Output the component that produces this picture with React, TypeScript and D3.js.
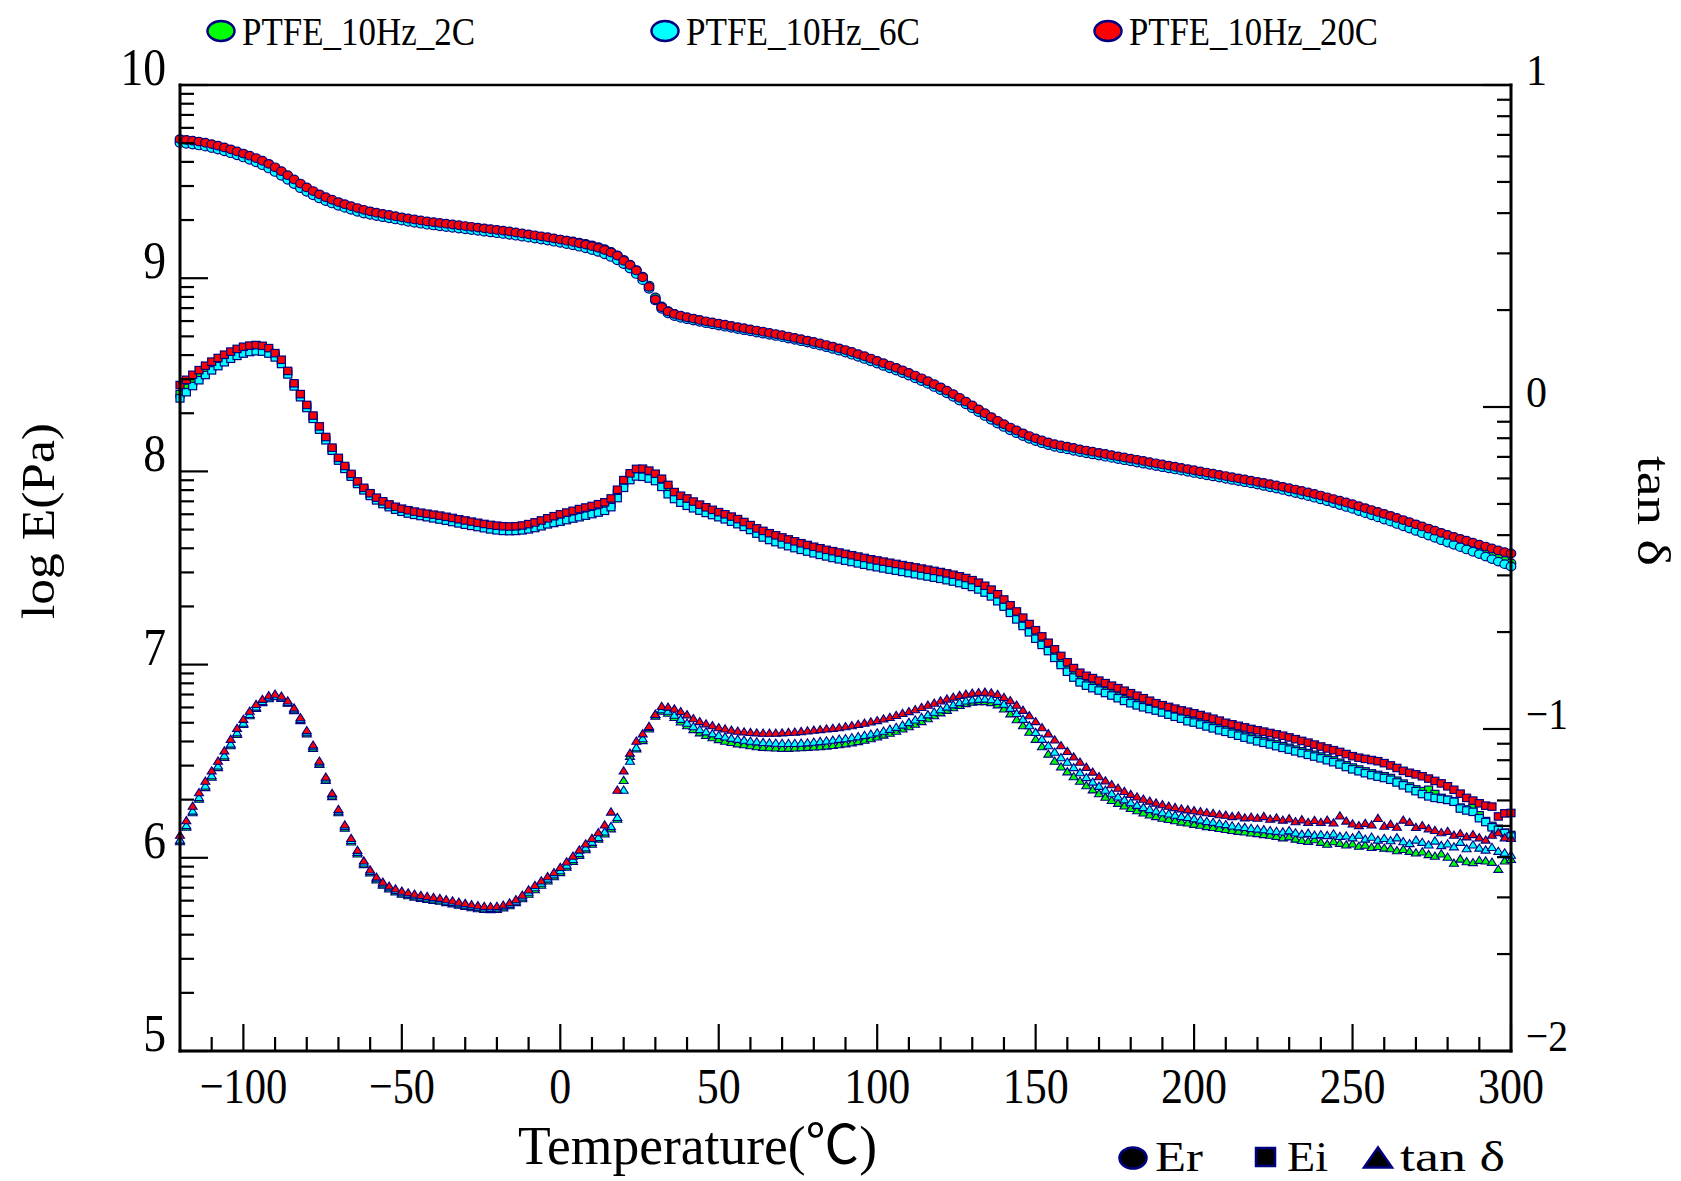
import React from "react";
import * as d3 from "d3";

// Temperature grid (°C) shared by every measured curve
const TEMPS: number[] = d3.range(-120, 301, 2);

// log10 of storage modulus Er (Pa)
const ER_2C = [
  9.71, 9.706, 9.702, 9.697, 9.691, 9.684, 9.676, 9.667, 9.657, 9.646,
  9.635, 9.623, 9.611, 9.597, 9.581, 9.563, 9.543, 9.522, 9.5, 9.479,
  9.459, 9.441, 9.424, 9.409, 9.396, 9.384, 9.373, 9.363, 9.353, 9.344,
  9.337, 9.331, 9.325, 9.319, 9.313, 9.307, 9.301, 9.296, 9.291, 9.286,
  9.282, 9.278, 9.274, 9.27, 9.266, 9.262, 9.258, 9.254, 9.25, 9.246,
  9.242, 9.238, 9.234, 9.23, 9.226, 9.221, 9.217, 9.213, 9.209, 9.204,
  9.2, 9.195, 9.19, 9.184, 9.178, 9.17, 9.161, 9.15, 9.136, 9.118,
  9.095, 9.07, 9.042, 9.008, 8.962, 8.9, 8.854, 8.83, 8.815, 8.804,
  8.794, 8.786, 8.779, 8.772, 8.766, 8.76, 8.754, 8.748, 8.742, 8.736,
  8.73, 8.724, 8.718, 8.712, 8.706, 8.7, 8.693, 8.686, 8.679, 8.672,
  8.664, 8.656, 8.648, 8.64, 8.631, 8.621, 8.611, 8.6, 8.589, 8.577,
  8.565, 8.553, 8.541, 8.529, 8.516, 8.503, 8.489, 8.475, 8.46, 8.444,
  8.428, 8.411, 8.393, 8.374, 8.354, 8.334, 8.314, 8.294, 8.274, 8.255,
  8.237, 8.22, 8.205, 8.19, 8.176, 8.164, 8.153, 8.143, 8.134, 8.127,
  8.121, 8.114, 8.107, 8.101, 8.095, 8.089, 8.083, 8.077, 8.071, 8.065,
  8.059, 8.053, 8.047, 8.041, 8.035, 8.029, 8.023, 8.017, 8.011, 8.005,
  7.999, 7.993, 7.987, 7.981, 7.975, 7.969, 7.963, 7.957, 7.951, 7.945,
  7.939, 7.932, 7.925, 7.918, 7.911, 7.904, 7.896, 7.888, 7.88, 7.872,
  7.864, 7.855, 7.846, 7.836, 7.826, 7.816, 7.805, 7.794, 7.783, 7.772,
  7.761, 7.75, 7.739, 7.727, 7.715, 7.703, 7.691, 7.679, 7.667, 7.655,
  7.643, 7.632, 7.62, 7.608, 7.596, 7.584, 7.572, 7.56, 7.548, 7.536,
  7.525,
];
const ER_6C = [
  9.7, 9.696, 9.692, 9.687, 9.681, 9.674, 9.666, 9.657, 9.647, 9.636,
  9.625, 9.613, 9.6, 9.585, 9.568, 9.55, 9.53, 9.509, 9.487, 9.466,
  9.447, 9.429, 9.413, 9.399, 9.387, 9.375, 9.364, 9.354, 9.344, 9.335,
  9.328, 9.322, 9.316, 9.31, 9.304, 9.298, 9.292, 9.287, 9.282, 9.277,
  9.273, 9.269, 9.265, 9.261, 9.257, 9.253, 9.249, 9.245, 9.241, 9.237,
  9.233, 9.229, 9.225, 9.22, 9.215, 9.21, 9.205, 9.2, 9.195, 9.189,
  9.183, 9.177, 9.17, 9.163, 9.155, 9.146, 9.136, 9.124, 9.11, 9.093,
  9.073, 9.05, 9.022, 8.99, 8.945, 8.885, 8.842, 8.818, 8.804, 8.795,
  8.788, 8.781, 8.774, 8.767, 8.761, 8.755, 8.749, 8.743, 8.737, 8.731,
  8.725, 8.719, 8.713, 8.707, 8.701, 8.695, 8.688, 8.681, 8.674, 8.667,
  8.659, 8.651, 8.643, 8.634, 8.625, 8.615, 8.604, 8.593, 8.582, 8.57,
  8.558, 8.546, 8.534, 8.522, 8.509, 8.496, 8.482, 8.468, 8.453, 8.437,
  8.421, 8.404, 8.386, 8.367, 8.347, 8.327, 8.307, 8.287, 8.267, 8.248,
  8.23, 8.213, 8.198, 8.183, 8.169, 8.157, 8.146, 8.136, 8.127, 8.12,
  8.114, 8.107, 8.1, 8.094, 8.088, 8.082, 8.076, 8.07, 8.064, 8.058,
  8.052, 8.046, 8.04, 8.034, 8.028, 8.022, 8.016, 8.01, 8.004, 7.998,
  7.992, 7.986, 7.98, 7.974, 7.968, 7.962, 7.956, 7.95, 7.944, 7.938,
  7.932, 7.925, 7.918, 7.911, 7.904, 7.896, 7.888, 7.88, 7.872, 7.864,
  7.855, 7.846, 7.836, 7.826, 7.816, 7.806, 7.795, 7.784, 7.773, 7.762,
  7.751, 7.74, 7.728, 7.716, 7.704, 7.692, 7.68, 7.668, 7.656, 7.644,
  7.632, 7.62, 7.608, 7.596, 7.584, 7.572, 7.559, 7.546, 7.533, 7.52,
  7.508,
];
const ER_20C = [
  9.72, 9.716, 9.712, 9.707, 9.701, 9.694, 9.686, 9.677, 9.667, 9.656,
  9.645, 9.634, 9.622, 9.608, 9.592, 9.574, 9.554, 9.533, 9.511, 9.49,
  9.47, 9.451, 9.434, 9.419, 9.406, 9.394, 9.383, 9.373, 9.363, 9.354,
  9.346, 9.339, 9.333, 9.327, 9.321, 9.315, 9.309, 9.304, 9.299, 9.294,
  9.29, 9.286, 9.282, 9.278, 9.274, 9.27, 9.266, 9.262, 9.258, 9.254,
  9.25, 9.246, 9.242, 9.237, 9.232, 9.227, 9.222, 9.217, 9.212, 9.206,
  9.2, 9.194, 9.188, 9.181, 9.174, 9.166, 9.157, 9.146, 9.133, 9.117,
  9.09, 9.068, 9.04, 9.005, 8.955, 8.89, 8.85, 8.828, 8.815, 8.806,
  8.798, 8.791, 8.784, 8.777, 8.771, 8.765, 8.759, 8.753, 8.747, 8.741,
  8.735, 8.729, 8.723, 8.717, 8.711, 8.705, 8.698, 8.691, 8.684, 8.677,
  8.67, 8.662, 8.654, 8.646, 8.637, 8.628, 8.618, 8.607, 8.596, 8.584,
  8.572, 8.56, 8.548, 8.536, 8.523, 8.51, 8.496, 8.482, 8.467, 8.451,
  8.435, 8.418, 8.4, 8.381, 8.361, 8.341, 8.321, 8.301, 8.281, 8.262,
  8.244, 8.227, 8.212, 8.197, 8.183, 8.171, 8.16, 8.15, 8.141, 8.134,
  8.128, 8.121, 8.114, 8.108, 8.102, 8.096, 8.09, 8.084, 8.078, 8.072,
  8.066, 8.06, 8.054, 8.048, 8.042, 8.036, 8.03, 8.024, 8.018, 8.012,
  8.006, 8.0, 7.994, 7.988, 7.982, 7.976, 7.97, 7.964, 7.958, 7.952,
  7.946, 7.94, 7.934, 7.927, 7.92, 7.913, 7.906, 7.899, 7.891, 7.883,
  7.875, 7.866, 7.857, 7.848, 7.839, 7.83, 7.82, 7.81, 7.8, 7.79,
  7.78, 7.77, 7.759, 7.748, 7.737, 7.726, 7.715, 7.704, 7.693, 7.682,
  7.671, 7.661, 7.651, 7.641, 7.631, 7.621, 7.611, 7.601, 7.591, 7.582,
  7.575,
];

// log10 of loss modulus Ei (Pa)
const EI_2C = [
  8.4, 8.432, 8.463, 8.492, 8.518, 8.541, 8.562, 8.581, 8.598, 8.612,
  8.624, 8.632, 8.636, 8.634, 8.624, 8.603, 8.57, 8.514, 8.45, 8.393,
  8.337, 8.281, 8.225, 8.17, 8.115, 8.063, 8.02, 7.98, 7.942, 7.909,
  7.88, 7.857, 7.838, 7.822, 7.809, 7.798, 7.79, 7.783, 7.777, 7.771,
  7.765, 7.759, 7.753, 7.746, 7.739, 7.732, 7.726, 7.72, 7.714, 7.708,
  7.703, 7.7, 7.699, 7.7, 7.703, 7.709, 7.716, 7.725, 7.735, 7.744,
  7.752, 7.76, 7.768, 7.776, 7.784, 7.792, 7.8, 7.81, 7.832, 7.885,
  7.938, 7.975, 7.99, 7.99, 7.982, 7.97, 7.945, 7.908, 7.876, 7.856,
  7.84, 7.824, 7.811, 7.798, 7.786, 7.775, 7.764, 7.752, 7.739, 7.725,
  7.709, 7.69, 7.671, 7.657, 7.646, 7.635, 7.625, 7.615, 7.606, 7.597,
  7.588, 7.58, 7.572, 7.564, 7.557, 7.55, 7.543, 7.536, 7.529, 7.522,
  7.516, 7.51, 7.504, 7.498, 7.492, 7.486, 7.48, 7.474, 7.468, 7.462,
  7.456, 7.449, 7.442, 7.434, 7.425, 7.414, 7.401, 7.385, 7.365, 7.34,
  7.312, 7.28, 7.246, 7.212, 7.179, 7.146, 7.114, 7.082, 7.047, 7.01,
  6.974, 6.944, 6.918, 6.9, 6.887, 6.875, 6.862, 6.849, 6.835, 6.821,
  6.809, 6.798, 6.788, 6.779, 6.771, 6.761, 6.75, 6.739, 6.729, 6.716,
  6.709, 6.699, 6.689, 6.679, 6.669, 6.661, 6.651, 6.641, 6.631, 6.622,
  6.612, 6.604, 6.596, 6.587, 6.578, 6.569, 6.56, 6.551, 6.542, 6.533,
  6.524, 6.514, 6.504, 6.492, 6.479, 6.467, 6.457, 6.447, 6.437, 6.429,
  6.422, 6.413, 6.399, 6.384, 6.369, 6.354, 6.345, 6.352, 6.33, 6.31,
  6.3, 6.292, 6.26, 6.25, 6.257, 6.22, 6.19, 6.165, 6.15, 6.13,
  6.118,
];
const EI_6C = [
  8.378, 8.41, 8.442, 8.472, 8.499, 8.523, 8.545, 8.565, 8.583, 8.598,
  8.61, 8.618, 8.622, 8.62, 8.61, 8.59, 8.556, 8.502, 8.44, 8.384,
  8.328, 8.272, 8.216, 8.161, 8.107, 8.056, 8.013, 7.973, 7.935, 7.902,
  7.873, 7.85, 7.831, 7.815, 7.802, 7.791, 7.782, 7.775, 7.769, 7.763,
  7.757, 7.751, 7.745, 7.738, 7.731, 7.724, 7.718, 7.712, 7.706, 7.7,
  7.695, 7.692, 7.691, 7.692, 7.695, 7.7, 7.707, 7.716, 7.726, 7.733,
  7.74, 7.748, 7.756, 7.763, 7.771, 7.779, 7.787, 7.796, 7.815, 7.862,
  7.915, 7.955, 7.974, 7.972, 7.963, 7.95, 7.92, 7.882, 7.857, 7.838,
  7.822, 7.809, 7.797, 7.785, 7.774, 7.763, 7.752, 7.74, 7.727, 7.713,
  7.697, 7.678, 7.658, 7.645, 7.634, 7.623, 7.613, 7.603, 7.594, 7.585,
  7.576, 7.568, 7.56, 7.552, 7.545, 7.538, 7.531, 7.524, 7.517, 7.51,
  7.504, 7.498, 7.492, 7.486, 7.48, 7.474, 7.468, 7.462, 7.456, 7.45,
  7.444, 7.437, 7.43, 7.422, 7.413, 7.402, 7.389, 7.373, 7.353, 7.328,
  7.3, 7.268, 7.234, 7.2, 7.167, 7.134, 7.102, 7.07, 7.035, 6.998,
  6.963, 6.933, 6.908, 6.891, 6.878, 6.866, 6.853, 6.84, 6.826, 6.812,
  6.8, 6.789, 6.779, 6.77, 6.762, 6.752, 6.741, 6.73, 6.72, 6.707,
  6.7, 6.69, 6.68, 6.67, 6.66, 6.652, 6.642, 6.632, 6.622, 6.613,
  6.603, 6.595, 6.587, 6.578, 6.569, 6.56, 6.551, 6.542, 6.533, 6.524,
  6.515, 6.505, 6.495, 6.483, 6.47, 6.458, 6.448, 6.438, 6.428, 6.42,
  6.413, 6.404, 6.39, 6.375, 6.36, 6.345, 6.33, 6.318, 6.31, 6.305,
  6.3, 6.29, 6.255, 6.245, 6.238, 6.205, 6.185, 6.158, 6.145, 6.128,
  6.11,
];
const EI_20C = [
  8.447, 8.474, 8.5, 8.524, 8.547, 8.568, 8.587, 8.604, 8.62, 8.634,
  8.645, 8.651, 8.654, 8.65, 8.638, 8.612, 8.578, 8.52, 8.456, 8.4,
  8.344, 8.289, 8.233, 8.178, 8.123, 8.07, 8.028, 7.987, 7.948, 7.915,
  7.887, 7.864, 7.845, 7.829, 7.817, 7.807, 7.799, 7.792, 7.786, 7.781,
  7.776, 7.771, 7.765, 7.759, 7.752, 7.746, 7.74, 7.734, 7.728, 7.723,
  7.719, 7.716, 7.715, 7.716, 7.72, 7.727, 7.736, 7.746, 7.757, 7.768,
  7.778, 7.787, 7.796, 7.805, 7.813, 7.821, 7.83, 7.84, 7.86, 7.905,
  7.955, 7.99, 8.013, 8.014, 8.004, 7.988, 7.962, 7.93, 7.893, 7.874,
  7.86, 7.844, 7.828, 7.814, 7.801, 7.789, 7.778, 7.766, 7.753, 7.738,
  7.722, 7.705, 7.692, 7.68, 7.669, 7.658, 7.648, 7.638, 7.628, 7.619,
  7.61, 7.602, 7.594, 7.587, 7.58, 7.573, 7.566, 7.559, 7.552, 7.545,
  7.539, 7.533, 7.527, 7.521, 7.515, 7.509, 7.503, 7.497, 7.491, 7.485,
  7.479, 7.472, 7.465, 7.457, 7.448, 7.437, 7.424, 7.408, 7.388, 7.364,
  7.337, 7.307, 7.275, 7.243, 7.21, 7.178, 7.146, 7.113, 7.079, 7.045,
  7.012, 6.982, 6.958, 6.942, 6.93, 6.917, 6.904, 6.891, 6.878, 6.865,
  6.852, 6.839, 6.826, 6.813, 6.8, 6.79, 6.781, 6.772, 6.763, 6.756,
  6.748, 6.739, 6.73, 6.72, 6.71, 6.699, 6.691, 6.683, 6.675, 6.667,
  6.66, 6.653, 6.646, 6.639, 6.632, 6.623, 6.614, 6.605, 6.596, 6.586,
  6.576, 6.566, 6.557, 6.548, 6.537, 6.526, 6.518, 6.512, 6.506, 6.5,
  6.49, 6.478, 6.465, 6.45, 6.44, 6.432, 6.422, 6.41, 6.398, 6.385,
  6.37, 6.352, 6.332, 6.31, 6.296, 6.282, 6.27, 6.265, 6.214, 6.23,
  6.232,
];

// log10 of tan δ (right axis)
const TAN_2C = [
  -1.35, -1.305, -1.26, -1.218, -1.182, -1.15, -1.12, -1.088, -1.052, -1.017,
  -0.986, -0.959, -0.936, -0.918, -0.906, -0.9, -0.905, -0.92, -0.943, -0.974,
  -1.015, -1.06, -1.11, -1.16, -1.21, -1.26, -1.308, -1.351, -1.388, -1.421,
  -1.447, -1.469, -1.485, -1.497, -1.506, -1.513, -1.518, -1.522, -1.526, -1.529,
  -1.532, -1.535, -1.539, -1.543, -1.547, -1.551, -1.555, -1.558, -1.56, -1.561,
  -1.56, -1.556, -1.549, -1.539, -1.527, -1.513, -1.499, -1.485, -1.472, -1.459,
  -1.446, -1.429, -1.411, -1.393, -1.375, -1.358, -1.342, -1.326, -1.31, -1.28,
  -1.16, -1.085, -1.062, -1.036, -1.0, -0.96, -0.945, -0.951, -0.964, -0.978,
  -0.99, -1.002, -1.012, -1.02, -1.027, -1.033, -1.038, -1.042, -1.046, -1.049,
  -1.052, -1.055, -1.057, -1.058, -1.059, -1.06, -1.06, -1.059, -1.058, -1.057,
  -1.056, -1.055, -1.053, -1.051, -1.049, -1.046, -1.043, -1.039, -1.035, -1.03,
  -1.025, -1.019, -1.013, -1.007, -1.0, -0.993, -0.985, -0.977, -0.968, -0.959,
  -0.95, -0.942, -0.934, -0.927, -0.921, -0.917, -0.915, -0.915, -0.918, -0.925,
  -0.938, -0.953, -0.971, -0.99, -1.01, -1.032, -1.055, -1.078, -1.1, -1.118,
  -1.133, -1.148, -1.162, -1.176, -1.189, -1.201, -1.212, -1.222, -1.231, -1.239,
  -1.247, -1.254, -1.261, -1.267, -1.272, -1.277, -1.281, -1.285, -1.289, -1.292,
  -1.296, -1.299, -1.303, -1.306, -1.309, -1.312, -1.315, -1.318, -1.32, -1.323,
  -1.325, -1.328, -1.33, -1.334, -1.338, -1.335, -1.342, -1.346, -1.349, -1.344,
  -1.352, -1.358, -1.35, -1.355, -1.36, -1.357, -1.364, -1.361, -1.368, -1.365,
  -1.37, -1.372, -1.378, -1.374, -1.38, -1.385, -1.382, -1.39, -1.395, -1.388,
  -1.398, -1.417, -1.404, -1.412, -1.415, -1.408, -1.41, -1.414, -1.436, -1.41,
  -1.405,
];
const TAN_6C = [
  -1.345, -1.3, -1.255, -1.213, -1.177, -1.145, -1.115, -1.083, -1.047, -1.012,
  -0.982, -0.955, -0.932, -0.915, -0.903, -0.898, -0.903, -0.918, -0.94, -0.97,
  -1.01, -1.055, -1.105, -1.155, -1.205, -1.255, -1.303, -1.346, -1.383, -1.416,
  -1.443, -1.465, -1.481, -1.493, -1.502, -1.509, -1.514, -1.518, -1.522, -1.525,
  -1.528, -1.531, -1.535, -1.539, -1.543, -1.547, -1.551, -1.554, -1.556, -1.557,
  -1.556, -1.552, -1.545, -1.535, -1.522, -1.507, -1.493, -1.479, -1.466, -1.453,
  -1.44, -1.423, -1.405, -1.387, -1.369, -1.352, -1.337, -1.32, -1.303, -1.275,
  -1.19, -1.1, -1.058, -1.03, -0.995, -0.955, -0.94, -0.945, -0.957, -0.97,
  -0.982, -0.993, -1.002, -1.009, -1.015, -1.02, -1.025, -1.029, -1.032, -1.035,
  -1.038, -1.04, -1.042, -1.043, -1.044, -1.045, -1.045, -1.045, -1.044, -1.043,
  -1.041, -1.039, -1.037, -1.035, -1.032, -1.03, -1.027, -1.024, -1.02, -1.016,
  -1.012, -1.007, -1.001, -0.995, -0.988, -0.98, -0.972, -0.964, -0.956, -0.948,
  -0.94, -0.932, -0.925, -0.918, -0.913, -0.91, -0.908, -0.907, -0.909, -0.914,
  -0.923, -0.936, -0.952, -0.97, -0.99, -1.011, -1.032, -1.052, -1.072, -1.089,
  -1.103, -1.12, -1.136, -1.151, -1.165, -1.178, -1.19, -1.201, -1.211, -1.22,
  -1.229, -1.237, -1.244, -1.25, -1.255, -1.26, -1.264, -1.268, -1.272, -1.275,
  -1.279, -1.283, -1.287, -1.29, -1.294, -1.297, -1.301, -1.304, -1.306, -1.309,
  -1.311, -1.313, -1.316, -1.318, -1.32, -1.316, -1.323, -1.327, -1.324, -1.33,
  -1.328, -1.331, -1.326, -1.334, -1.332, -1.338, -1.33, -1.342, -1.336, -1.345,
  -1.34, -1.347, -1.338, -1.35, -1.356, -1.345, -1.352, -1.36, -1.348, -1.362,
  -1.357, -1.366, -1.352, -1.372, -1.36, -1.37, -1.376, -1.368, -1.38, -1.385,
  -1.392,
];
const TAN_20C = [
  -1.33, -1.285, -1.24, -1.198, -1.162, -1.13, -1.1, -1.068, -1.032, -0.998,
  -0.97, -0.945, -0.924, -0.908, -0.897, -0.892, -0.898, -0.913, -0.935, -0.965,
  -1.005, -1.05, -1.1, -1.15, -1.2, -1.25, -1.298, -1.34, -1.377, -1.41,
  -1.438, -1.46, -1.476, -1.488, -1.497, -1.504, -1.509, -1.513, -1.517, -1.52,
  -1.523, -1.526, -1.53, -1.534, -1.538, -1.542, -1.546, -1.549, -1.551, -1.552,
  -1.551, -1.547, -1.54, -1.53, -1.516, -1.5, -1.486, -1.472, -1.459, -1.446,
  -1.43, -1.413, -1.395, -1.376, -1.357, -1.34, -1.322, -1.298, -1.258, -1.19,
  -1.13, -1.075, -1.038, -1.015, -0.992, -0.955, -0.93, -0.932, -0.938, -0.946,
  -0.956, -0.968, -0.977, -0.984, -0.99, -0.996, -1.0, -1.004, -1.007, -1.009,
  -1.011, -1.012, -1.013, -1.013, -1.013, -1.012, -1.011, -1.01, -1.008, -1.006,
  -1.004, -1.002, -1.0, -0.998, -0.996, -0.993, -0.99, -0.986, -0.982, -0.978,
  -0.974, -0.969, -0.964, -0.958, -0.952, -0.946, -0.94, -0.933, -0.926, -0.92,
  -0.913, -0.907, -0.901, -0.896, -0.892, -0.889, -0.887, -0.886, -0.888, -0.893,
  -0.902, -0.912, -0.926, -0.942, -0.959, -0.977, -0.996, -1.015, -1.034, -1.052,
  -1.07, -1.087, -1.103, -1.119, -1.134, -1.148, -1.161, -1.173, -1.184, -1.194,
  -1.203, -1.211, -1.218, -1.224, -1.23, -1.235, -1.24, -1.244, -1.248, -1.251,
  -1.254, -1.257, -1.26, -1.262, -1.266, -1.268, -1.272, -1.27, -1.276, -1.274,
  -1.277, -1.272, -1.28, -1.276, -1.283, -1.279, -1.288, -1.282, -1.29, -1.284,
  -1.29, -1.283, -1.292, -1.27, -1.286, -1.295, -1.3, -1.293, -1.298, -1.278,
  -1.302, -1.296, -1.305, -1.283, -1.29, -1.306, -1.3, -1.31, -1.315, -1.322,
  -1.318, -1.33, -1.325, -1.335, -1.328, -1.338, -1.345, -1.33, -1.322, -1.338,
  -1.34,
];

const SERIES_NAMES = ["PTFE_10Hz_2C", "PTFE_10Hz_6C", "PTFE_10Hz_20C"];
const SERIES_FILLS = ["#00ff00", "#00ffff", "#ff0000"];
const ER_SETS = [ER_2C, ER_6C, ER_20C];
const EI_SETS = [EI_2C, EI_6C, EI_20C];
const TAN_SETS = [TAN_2C, TAN_6C, TAN_20C];

const LEFT_TICKS = [5, 6, 7, 8, 9, 10];
const RIGHT_TICKS = [-2, -1, 0, 1];
const X_MAJOR = [-100, -50, 0, 50, 100, 150, 200, 250, 300];

const W = 1681;
const H = 1181;
const L = 180;
const R = 1511;
const T = 85;
const B = 1051;
const NAVY = "#000080";
const FONT = "'Liberation Serif', 'Noto Sans CJK JP', serif";

const fmt = (v: number) => (v < 0 ? "\u2212" + Math.abs(v) : String(v));

// minor ticks placed at n + log10(k), k = 2..9, inside each decade
const decadeMinors = (lo: number, hi: number) => {
  const out: number[] = [];
  for (let n = lo; n < hi; n++) for (let k = 2; k <= 9; k++) out.push(n + Math.log10(k));
  return out;
};

export default function App() {
  const x = d3.scaleLinear().domain([-120, 300]).range([L, R]);
  const yL = d3.scaleLinear().domain([5, 10]).range([B, T]);
  const yR = d3.scaleLinear().domain([-2, 1]).range([B, T]);

  const xMinor = d3.range(-110, 301, 10).filter((v) => v % 50 !== 0);
  const tri = (cx: number, cy: number, w: number, h: number) =>
    `M${cx},${cy - h * 0.58}L${cx + w / 2},${cy + h * 0.42}L${cx - w / 2},${cy + h * 0.42}Z`;

  const legendX = [221, 665, 1108];
  const legendTextLen = [233, 234, 249];

  return (
    <svg
      width={W}
      height={H}
      viewBox={`0 0 ${W} ${H}`}
      style={{ position: "absolute", left: 0, top: 0, background: "#fff" }}
      fontFamily={FONT}
    >
      <rect x={0} y={0} width={W} height={H} fill="#fff" />

      {/* series legend */}
      {SERIES_NAMES.map((name, i) => (
        <g key={name}>
          <ellipse cx={legendX[i]} cy={31} rx={13.5} ry={10} fill={SERIES_FILLS[i]} stroke={NAVY} strokeWidth={2.5} />
          <text x={legendX[i] + 21} y={45} fontSize={41} textLength={legendTextLen[i]} lengthAdjust="spacingAndGlyphs">
            {name}
          </text>
        </g>
      ))}

      {/* data markers */}
      {SERIES_NAMES.map((name, s) => (
        <g key={"er" + name} fill={SERIES_FILLS[s]} stroke={NAVY} strokeWidth={1.2}>
          {TEMPS.map((t, i) => (
            <ellipse key={i} cx={x(t)} cy={yL(ER_SETS[s][i])} rx={4.8} ry={4.3} />
          ))}
        </g>
      ))}
      {SERIES_NAMES.map((name, s) => (
        <g key={"ei" + name} fill={SERIES_FILLS[s]} stroke={NAVY} strokeWidth={1.2}>
          {TEMPS.map((t, i) => (
            <rect key={i} x={x(t) - 4} y={yL(EI_SETS[s][i]) - 3.7} width={8} height={7.4} />
          ))}
        </g>
      ))}
      {SERIES_NAMES.map((name, s) => (
        <g key={"tan" + name} fill={SERIES_FILLS[s]} stroke={NAVY} strokeWidth={1.1}>
          {TEMPS.map((t, i) => (
            <path key={i} d={tri(x(t), yR(TAN_SETS[s][i]), 9, 7.2)} />
          ))}
        </g>
      ))}

      {/* frame */}
      <g stroke="#000" fill="none" strokeLinecap="square">
        <line x1={L} y1={T} x2={R} y2={T} strokeWidth={2.5} />
        <line x1={L} y1={T} x2={L} y2={B} strokeWidth={3} />
        <line x1={R} y1={T} x2={R} y2={B} strokeWidth={3} />
        <line x1={L} y1={B} x2={R} y2={B} strokeWidth={3} />
      </g>

      {/* left axis */}
      <g stroke="#000" strokeWidth={2.2}>
        {LEFT_TICKS.map((v) => (
          <line key={v} x1={L} x2={L + 28} y1={yL(v)} y2={yL(v)} />
        ))}
        {decadeMinors(5, 10).map((v, i) => (
          <line key={i} x1={L} x2={L + 14} y1={yL(v)} y2={yL(v)} />
        ))}
      </g>
      {LEFT_TICKS.map((v) => {
        const s = fmt(v);
        return (
          <text key={v} x={166} y={yL(v)} fontSize={52} textAnchor="end" textLength={s.length * 22.8} lengthAdjust="spacingAndGlyphs">
            {s}
          </text>
        );
      })}

      {/* right axis */}
      <g stroke="#000" strokeWidth={2.2}>
        {RIGHT_TICKS.map((v) => (
          <line key={v} x1={R} x2={R - 28} y1={yR(v)} y2={yR(v)} />
        ))}
        {decadeMinors(-2, 1).map((v, i) => (
          <line key={i} x1={R} x2={R - 14} y1={yR(v)} y2={yR(v)} />
        ))}
      </g>
      {RIGHT_TICKS.map((v) => {
        const s = fmt(v);
        return (
          <text key={v} x={1526} y={yR(v)} fontSize={45} textLength={s.length * 21} lengthAdjust="spacingAndGlyphs">
            {s}
          </text>
        );
      })}

      {/* bottom axis */}
      <g stroke="#000" strokeWidth={2.2}>
        {X_MAJOR.map((v) => (
          <line key={v} x1={x(v)} x2={x(v)} y1={B} y2={B - 27} />
        ))}
        {xMinor.map((v) => (
          <line key={v} x1={x(v)} x2={x(v)} y1={B} y2={B - 14} />
        ))}
      </g>
      {X_MAJOR.map((v) => {
        const s = fmt(v);
        return (
          <text key={v} x={x(v)} y={1103} fontSize={50} textAnchor="middle" textLength={s.length * 22} lengthAdjust="spacingAndGlyphs">
            {s}
          </text>
        );
      })}

      {/* axis titles */}
      <text x={518} y={1164} fontSize={54} textLength={359} lengthAdjust="spacingAndGlyphs">
        Temperature(℃)
      </text>
      <text transform="translate(54,521) rotate(-90)" fontSize={46} textAnchor="middle" textLength={196} lengthAdjust="spacingAndGlyphs">
        log E(Pa)
      </text>
      <text transform="translate(1638,511) rotate(90)" fontSize={46} textAnchor="middle" textLength={110} lengthAdjust="spacingAndGlyphs">
        tan δ
      </text>

      {/* quantity legend */}
      <g fill="#000" stroke={NAVY} strokeWidth={2.5}>
        <ellipse cx={1133} cy={1158} rx={13.5} ry={10.5} />
        <rect x={1256} y={1148} width={19} height={18} />
        <path d={tri(1378, 1159, 28, 20)} />
      </g>
      <text x={1155} y={1171} fontSize={42} textLength={48} lengthAdjust="spacingAndGlyphs">Er</text>
      <text x={1287} y={1171} fontSize={42} textLength={41} lengthAdjust="spacingAndGlyphs">Ei</text>
      <text x={1400} y={1171} fontSize={42} textLength={105} lengthAdjust="spacingAndGlyphs">tan δ</text>
    </svg>
  );
}
